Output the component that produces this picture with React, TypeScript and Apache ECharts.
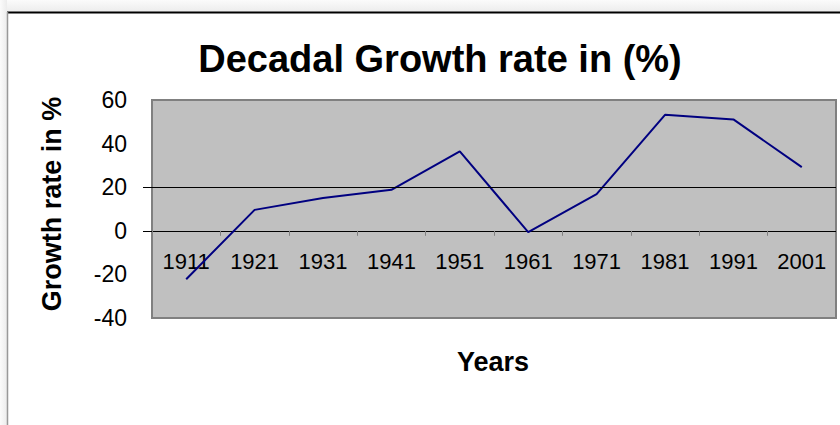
import React, { useEffect, useRef } from "react";
import * as echarts from "echarts";

const years = ["1911", "1921", "1931", "1941", "1951", "1961", "1971", "1981", "1991", "2001"];
const growthRate = [-22.2, 9.6, 15.0, 18.8, 36.4, -0.6, 16.8, 53.2, 51.1, 29.2];
const yTicks = { min: -40, max: 60, interval: 20 };
const titleText = "Decadal Growth rate in (%)";
const yTitle = "Growth rate in %";
const xTitle = "Years";

const FONT = "'Liberation Sans', Arial, sans-serif";

export default function App() {
  const ref = useRef<HTMLDivElement>(null);
  useEffect(() => {
    if (!ref.current) return;
    const chart = echarts.init(ref.current, null, { renderer: "svg" });
    const baseGraphic: any[] = [
      {
        type: "rect",
        shape: { x: 0, y: 0, width: 840, height: 12 },
        style: {
          fill: new echarts.graphic.LinearGradient(0, 0, 0, 1, [
            { offset: 0, color: "#fbfbfb" },
            { offset: 1, color: "#ececec" },
          ]),
        },
        silent: true,
      },
      {
        type: "rect",
        shape: { x: 0, y: 0, width: 7, height: 425 },
        style: {
          fill: new echarts.graphic.LinearGradient(0, 0, 1, 0, [
            { offset: 0, color: "#fbfbfb" },
            { offset: 1, color: "#ececec" },
          ]),
        },
        silent: true,
      },
      {
        type: "line",
        shape: { x1: 7, y1: 12.5, x2: 840, y2: 12.5 },
        style: { stroke: "#000", lineWidth: 2 },
        silent: true,
      },
      {
        type: "line",
        shape: { x1: 7.5, y1: 12, x2: 7.5, y2: 425 },
        style: { stroke: "#999", lineWidth: 1.5 },
        silent: true,
      },
      {
        type: "text",
        x: 440,
        y: 59,
        style: {
          text: titleText,
          fontSize: 38,
          fontWeight: "bold",
          fontFamily: FONT,
          fill: "#000",
          align: "center",
          verticalAlign: "middle",
        },
      },
      {
        type: "text",
        x: 52,
        y: 204,
        rotation: Math.PI / 2,
        style: {
          text: yTitle,
          fontSize: 27,
          fontWeight: "bold",
          fontFamily: FONT,
          fill: "#000",
          align: "center",
          verticalAlign: "middle",
        },
      },
      {
        type: "text",
        x: 493,
        y: 362,
        style: {
          text: xTitle,
          fontSize: 27,
          fontWeight: "bold",
          fontFamily: FONT,
          fill: "#000",
          align: "center",
          verticalAlign: "middle",
        },
      },
    ];
    const option: any = {
      animation: false,
      backgroundColor: "#fff",
      textStyle: { fontFamily: FONT },
      grid: {
        show: true,
        left: 152,
        top: 100,
        right: 4,
        bottom: 107,
        backgroundColor: "#C0C0C0",
        borderColor: "#808080",
        borderWidth: 2,
      },
      xAxis: {
        type: "category",
        data: years,
        boundaryGap: true,
        axisLine: { show: true, onZero: true, lineStyle: { color: "#000", width: 1 } },
        axisTick: { show: true, inside: false, length: 5, lineStyle: { color: "#808080" } },
        axisLabel: { fontSize: 22, color: "#000", margin: -68, fontFamily: FONT, interval: 0 },
        splitLine: { show: false },
      },
      yAxis: {
        type: "value",
        min: yTicks.min,
        max: yTicks.max,
        interval: yTicks.interval,
        axisLine: { show: false },
        axisTick: { show: false },
        splitLine: { show: false },
        axisLabel: { fontSize: 23, color: "#000", margin: 25, fontFamily: FONT },
      },
      series: [
        {
          type: "line",
          data: growthRate,
          symbol: "none",
          lineStyle: { color: "#000080", width: 2 },
          markLine: {
            silent: true,
            symbol: ["none", "none"],
            label: { show: false },
            lineStyle: { color: "#000", width: 1, type: "solid" },
            data: [{ yAxis: 20 }],
          },
        },
      ],
      graphic: baseGraphic,
    };
    chart.setOption(option);
    const tickVals = [20, 0];
    const ticks = tickVals.map((v) => {
      const y = Math.round(chart.convertToPixel({ yAxisIndex: 0 }, v) as number) + 0.5;
      return {
        type: "line",
        shape: { x1: 143, y1: y, x2: 152, y2: y },
        style: { stroke: "#000", lineWidth: 1 },
        silent: true,
      };
    });
    chart.setOption({ graphic: [...baseGraphic, ...ticks] });
    return () => chart.dispose();
  }, []);
  return (
    <div
      ref={ref}
      style={{ position: "fixed", left: 0, top: 0, width: 840, height: 425 }}
    />
  );
}
